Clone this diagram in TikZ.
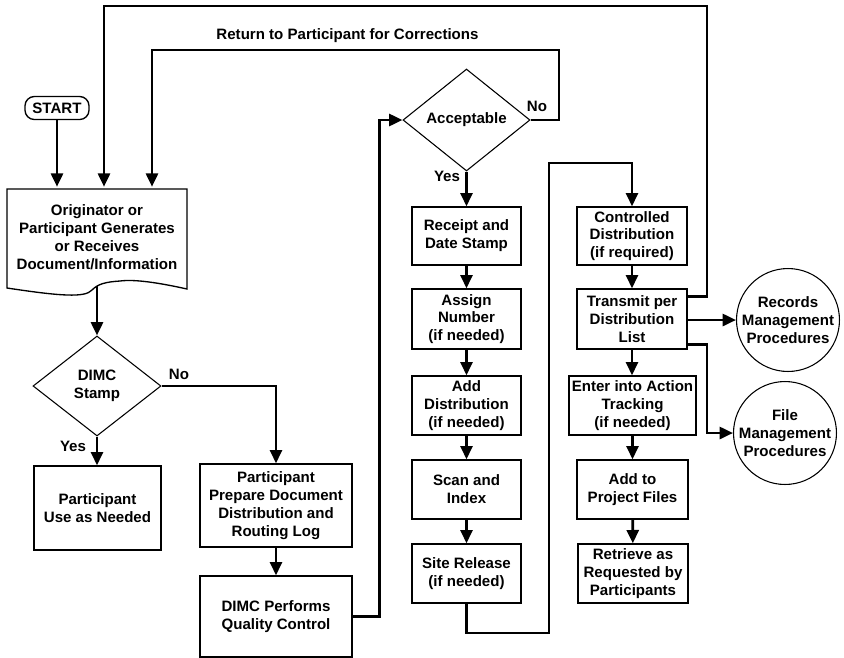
\documentclass[tikz,border=0pt]{standalone}
\usepackage{fontspec}
\setmainfont{Liberation Sans}
\usetikzlibrary{arrows.meta,shapes.geometric,calc}
\newcommand\flowfont{\bfseries\fontsize{11.3}{13.4}\selectfont}
\begin{document}
\begin{tikzpicture}[x=0.75pt,y=-0.75pt,
  sz/.style 2 args={minimum width={#1*0.75pt},minimum height={#2*0.75pt}},
  box/.style={draw,line width=1pt,align=center,inner sep=0pt,font=\flowfont},
  decision/.style={draw,diamond,line width=0.8pt,align=center,inner sep=0pt,font=\flowfont},
  terminal/.style={draw,circle,line width=0.8pt,align=center,inner sep=0pt,font=\flowfont,minimum size=75pt},
  conn/.style={line width=2pt,-{Triangle[width=9pt,length=10pt]}},
  lbl/.style={font=\flowfont,inner sep=0pt}]
\useasboundingbox (0,0) rectangle (844,658);

% ---- left part -------------------------------------------------------
\node[box,rounded corners=7pt,sz={64}{23}] (start) at (57,108) {START};

\node[sz={180}{100},inner sep=0pt,align=center,font=\flowfont] (orig) at (97,237)
  {Originator or\\Participant Generates\\or Receives\\Document/Information};
% document outline with wavy lower edge
\draw[line width=1pt] (7,288) -- (7,189) -- (187,189) -- (187,289)
  .. controls (160,283) and (135,279) .. (120,281)
  .. controls (105,282) and (98,284) .. (92,290)
  .. controls (85,298) and (60,296) .. (7,288) -- cycle;
\coordinate (origout) at (97,286);

\node[decision,aspect=1.28,minimum width=96pt,minimum height=75pt] (dimc) at (97,386) {DIMC\\Stamp};
\node[box,sz={127}{84}] (use) at (97.5,508) {Participant\\Use as Needed};
\node[box,sz={152}{83}] (prep) at (276,505.5) {Participant\\Prepare Document\\Distribution and\\Routing Log};
\node[box,sz={152}{81}] (qc) at (276,616.5) {DIMC Performs\\Quality Control};

% ---- middle column ---------------------------------------------------
\node[decision,aspect=1.25,minimum width=95.25pt,minimum height=76.5pt] (acc) at (466.5,120) {Acceptable};
\node[box,sz={109}{58}] (receipt) at (466.5,236) {Receipt and\\Date Stamp};
\node[box,sz={109}{60}] (assign)  at (466.5,319) {Assign\\Number\\(if needed)};
\node[box,sz={109}{59}] (adddist) at (466.5,405.5) {Add\\Distribution\\(if needed)};
\node[box,sz={109}{59}] (scan)    at (466.5,489.5) {Scan and\\Index};
\node[box,sz={109}{59}] (site)    at (466.5,573.5) {Site Release\\(if needed)};

% ---- right column ----------------------------------------------------
\node[box,sz={110}{58}]  (ctrl)     at (632,236)   {Controlled\\Distribution\\(if required)};
\node[box,sz={110}{60}]  (transmit) at (632,319)   {Transmit per\\Distribution\\List};
\node[box,sz={127}{59}]  (track)    at (632.5,405.5) {Enter into Action\\Tracking\\(if needed)};
\node[box,sz={111}{59}]  (files)    at (632.5,489.5) {Add to\\Project Files};
\node[box,sz={110}{59}]  (retrieve) at (633,573.5) {Retrieve as\\Requested by\\Participants};

\node[terminal] (records)  at (788,320) {Records\\Management\\Procedures};
\node[terminal] (filemgmt) at (785,433) {File\\Management\\Procedures};

% ---- labels ----------------------------------------------------------
\node[lbl] (retlbl)  at (347.5,36) {Return to Participant for Corrections};
\node[lbl] (accno)   at (537,106) {No};
\node[lbl] (accyes)  at (447,176) {Yes};
\node[lbl] (dimcno)  at (179,374) {No};
\node[lbl] (dimcyes) at (73,446)  {Yes};

% ---- connectors ------------------------------------------------------
\coordinate (outerR) at (707,6);
\coordinate (outerL) at (104,6);
\coordinate (retR) at (559,50);
\coordinate (retL) at (152,50);
\coordinate (jumpB) at (549,633);
\coordinate (jumpT) at (549,163);

\draw[conn] (start.south) -- (start.south |- orig.north);
\draw[conn] ([yshift=-6pt]transmit.north east) -| (outerR) -- (outerL) -- (outerL |- orig.north);
\draw[conn] (acc.east) -| (retR) -- (retL) -- (retL |- orig.north);
\draw[conn] (origout) -- (dimc.north);
\draw[conn] (dimc.east) -| (prep.north);
\draw[conn] (dimc.south) -- (dimc.south |- use.north);
\draw[conn] (prep.south) -- (qc.north);
\draw[conn] (qc.east) -| ($(acc.west)+(-23,0)$) -- (acc.west);
\draw[conn] (acc.south) -- (acc.south |- receipt.north);
\draw[conn] (receipt) -- (assign);
\draw[conn] (assign) -- (adddist);
\draw[conn] (adddist) -- (scan);
\draw[conn] (scan) -- (site);
\draw[conn] (site.south) |- (jumpB) -- (jumpT) -| (ctrl.north);
\draw[conn] (ctrl) -- (transmit);
\draw[conn] (transmit) -- (transmit |- track.north);
\draw[conn] (track.south) -- (track.south |- files.north);
\draw[conn] (files) -- (retrieve);
\draw[conn] (transmit.east |- records.west) -- (records.west);
\draw[conn] ([yshift=3.75pt]transmit.south east) -| (outerR |- filemgmt.west) -- (filemgmt.west);
\end{tikzpicture}
\end{document}
